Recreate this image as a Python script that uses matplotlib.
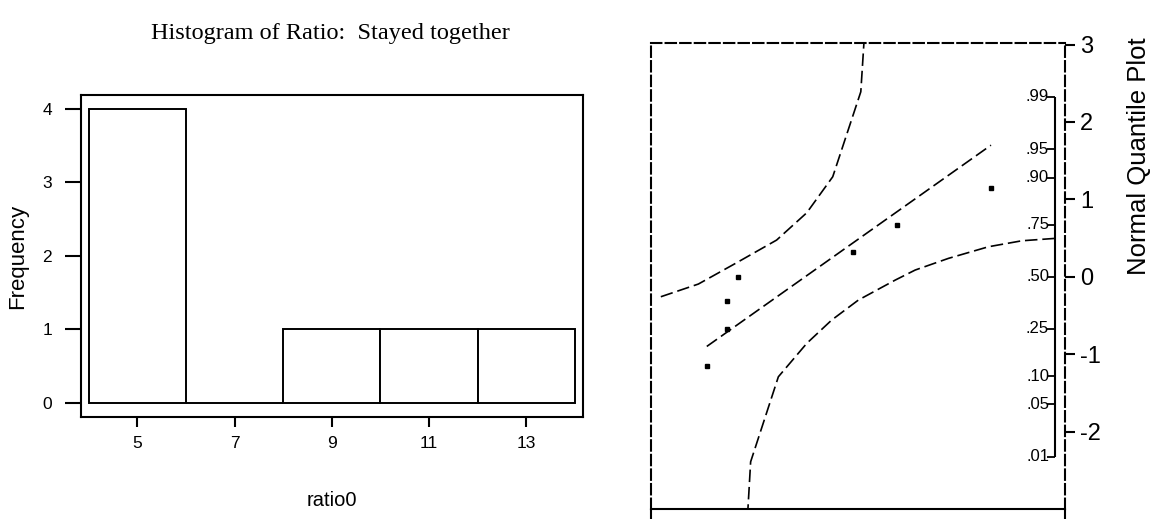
import matplotlib
matplotlib.use("Agg")
import matplotlib.pyplot as plt
import matplotlib.transforms as mtransforms

plt.rcParams['font.family'] = ['Liberation Sans', 'DejaVu Sans']
plt.rcParams['axes.unicode_minus'] = False
plt.rcParams['lines.scale_dashes'] = False

# ---------------- data ----------------
ratio_values = [4.79, 5.36, 5.36, 5.69, 8.95, 10.22, 12.89]
bin_edges = [4, 6, 8, 10, 12, 14]
hist_xticks = [5, 7, 9, 11, 13]
hist_yticks = [0, 1, 2, 3, 4]

normal_quantiles = [-1.15, -0.674, -0.319, 0.0, 0.319, 0.674, 1.15]
fit_x = [4.79, 12.89]
fit_z = [-0.90, 1.70]
upper_band_x = [3.48, 4.55, 5.64, 6.78, 7.64, 8.38, 9.18, 9.28]
upper_band_z = [-0.258, -0.094, 0.181, 0.474, 0.827, 1.292, 2.390, 3.10]
lower_band_x = [5.95, 6.04, 6.83, 7.64, 8.35, 9.11, 10.16, 10.73, 11.68, 12.82, 13.77, 14.72]
lower_band_z = [-3.10, -2.39, -1.292, -0.860, -0.559, -0.301, -0.043, 0.087, 0.238, 0.388, 0.465, 0.496]
z_ticks = [-2, -1, 0, 1, 2, 3]
prob_labels = ['.01', '.05', '.10', '.25', '.50', '.75', '.90', '.95', '.99']
prob_z = [-2.326, -1.645, -1.282, -0.674, 0.0, 0.674, 1.282, 1.645, 2.326]

W, H = 1155, 519
fig = plt.figure(figsize=(W / 100, H / 100), dpi=100)

# ---------------- histogram ----------------
ax1 = fig.add_axes([80.7 / W, 1 - 416.7 / H, (582.5 - 80.7) / W, (416.7 - 95) / H])
ax1.hist(ratio_values, bins=bin_edges, facecolor='white', edgecolor='black', linewidth=1.4)
ax1.set_xlim(3.835, 14.16)
ax1.set_ylim(-0.19, 4.19)
ax1.set_xticks(hist_xticks)
ax1.set_yticks(hist_yticks)
for s in ax1.spines.values():
    s.set_linewidth(1.5)
ax1.tick_params(axis='x', direction='out', length=7.2, width=1.5, labelsize=12.5, pad=7)
ax1.tick_params(axis='y', direction='out', length=11.5, width=1.5, labelsize=12.5, pad=9)

# ---------------- normal quantile plot ----------------
ax2 = fig.add_axes([651 / W, 1 - 509 / H, 414 / W, 466 / H])
ax2.set_xlim(3.2, 15.0)
ax2.set_ylim(-3.0, 3.02)
for name in ['top', 'left', 'right']:
    ax2.spines[name].set_linestyle((0, (7.5, 3)))
    ax2.spines[name].set_linewidth(1.5)
ax2.spines['bottom'].set_linestyle((0, (9.5, 1.5)))
ax2.spines['bottom'].set_linewidth(1.5)

ax2.yaxis.tick_right()
ax2.set_yticks(z_ticks)
ax2.tick_params(axis='y', direction='out', length=7, width=1.5, labelsize=17, pad=4)
ax2.set_xticks([3.2, 15.0])
ax2.set_xticklabels([])
ax2.tick_params(axis='x', direction='out', length=7, width=1.5)

trans = mtransforms.blended_transform_factory(ax2.transAxes, ax2.transData)
x_line = (1055 - 651) / 414
x_tick0 = (1046.5 - 651) / 414
x_text = (1049 - 651) / 414
ax2.plot([x_line, x_line], [prob_z[0], prob_z[-1]], transform=trans,
         color='black', lw=1.5, solid_capstyle='butt', clip_on=False)
for lab, z in zip(prob_labels, prob_z):
    ax2.plot([x_tick0, x_line], [z, z], transform=trans, color='black', lw=1.3,
             solid_capstyle='butt', clip_on=False)
    ax2.text(x_text, z, lab, transform=trans, ha='right', va='center', fontsize=12)

dash = (0, (9, 3.5))
ax2.plot(upper_band_x, upper_band_z, color='black', lw=1.2, linestyle=dash)
ax2.plot(lower_band_x, lower_band_z, color='black', lw=1.2, linestyle=dash)
ax2.plot(fit_x, fit_z, color='black', lw=1.2, linestyle=dash)
ax2.plot(ratio_values, normal_quantiles, 's', ms=3, color='black', mec='black')

# ---------------- texts ----------------
fig.text(330 / W, 1 - 33 / H, 'Histogram of Ratio:  Stayed together',
         family=['Liberation Serif', 'DejaVu Serif'], fontsize=17.5, ha='center', va='center')
fig.text(331.6 / W, 1 - 500 / H, 'ratio0', fontsize=14.5, ha='center', va='center')
fig.text(18 / W, 1 - 256 / H, 'Frequency', fontsize=16, rotation=90, ha='center', va='center')
fig.text(1139 / W, 1 - 156 / H, 'Normal Quantile Plot', fontsize=18.5, rotation=90,
         ha='center', va='center')

fig.savefig('out.png', dpi=100)
